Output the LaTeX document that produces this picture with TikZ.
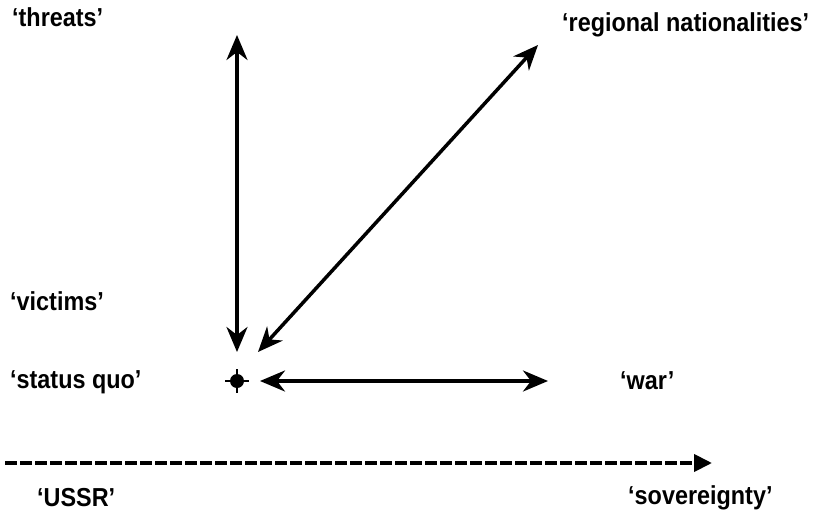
\documentclass[tikz,border=0pt]{standalone}
\usepackage{fontspec}
\setmainfont{Liberation Sans}
\usepackage{tikz}
\usetikzlibrary{arrows.meta,positioning}

\tikzset{
    lbl/.style={anchor=base west, inner sep=0pt, xscale=0.9, transform shape, font=\fontsize{26}{30}\selectfont\bfseries},
    dblarrow/.style={{Stealth[length=25pt,width=21pt,inset=8pt]}-{Stealth[length=25pt,width=21pt,inset=8pt]}, line width=3.5pt},
    axisarrow/.style={-{Triangle[length=18pt,width=17pt]}, line width=4pt, dash pattern=on 12pt off 3pt}
}

\begin{document}
\begin{tikzpicture}[x=1pt,y=-1pt]
    \useasboundingbox (0,0) rectangle (814,522);

    % Labels
    \node[lbl] at (12,27) (threats) {`threats'};
    \node[lbl] at (562,31) (regional) {`regional nationalities'};
    \node[lbl] at (10,310) (victims) {`victims'};
    \node[lbl] at (10,388) (statusquo) {`status quo'};
    \node[lbl] at (620,389) (war) {`war'};
    \node[lbl] at (37,506) (ussr) {`USSR'};
    \node[lbl] at (628,504) (sovereignty) {`sovereignty'};

    % Origin marker
    \node[circle, fill=black, minimum size=14pt, inner sep=0pt] at (237,381) (origin) {};
    \draw[line width=1.8pt] (origin.center) ++(-12,0) -- ++(24,0);
    \draw[line width=1.8pt] (origin.center) ++(0,-12) -- ++(0,24);

    % Arrow end points
    \coordinate (vtop) at (237,35);
    \coordinate (vbot) at (237,352);
    \coordinate (dtop) at (538,45);
    \coordinate (dbot) at (258,352);
    \coordinate (hleft) at (260,381);
    \coordinate (hright) at (548,381);
    \coordinate (axstart) at (5,463);
    \coordinate (axend) at (712,463);

    % Arrows
    \draw[dblarrow] (vbot) -- (vtop);
    \draw[dblarrow] (dbot) -- (dtop);
    \draw[dblarrow] (hleft) -- (hright);
    \draw[axisarrow] (axstart) -- (axend);
\end{tikzpicture}
\end{document}
